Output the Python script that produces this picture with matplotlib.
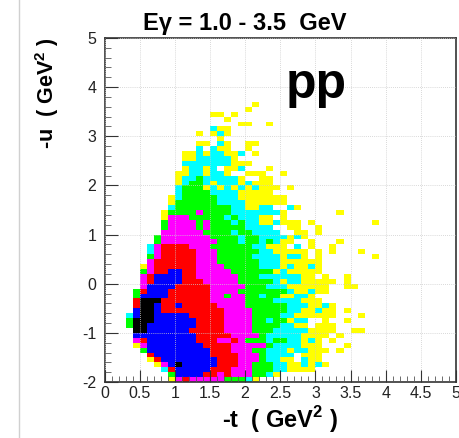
import numpy as np
import matplotlib
matplotlib.use("Agg")
import matplotlib.pyplot as plt
from matplotlib.colors import ListedColormap, BoundaryNorm
from matplotlib.lines import Line2D

plt.rcParams['font.family'] = ['Liberation Sans', 'DejaVu Sans']
plt.rcParams['mathtext.fontset'] = 'custom'
plt.rcParams['mathtext.bf'] = 'Liberation Sans:bold'
plt.rcParams['mathtext.rm'] = 'Liberation Sans'
plt.rcParams['axes.unicode_minus'] = False

# one entry per row of bins from y=-2 upward: (first filled column, levels)
# levels: 0 empty, 1 yellow, 2 cyan, 3 green, 4 magenta, 5 red, 6 blue, 7 black
hist_rows = [
    (9, "1454444433321"),
    (9, "3666655454443321"),
    (8, "2566666555444333221111"),
    (7, "1467666665554433322112121"),
    (6, "15666666665554443221102110"),
    (6, "5666666665555444322220111"),
    (5, "366666666655544433222122111" + "01"),
    (4, "146666666655554444432222111" + "0001"),
    (4, "4566666665554454333233221210" + "1"),
    (4, "66666666655555444432222211110" + "1"),
    (4, "7766666655555444433322222111100" + "11"),
    (3, "37766666665555444433332211011" + "1"),
    (3, "37776666665555444433233122001" + "001"),
    (3, "26776666655555444433332211111" + "10001"),
    (4, "677655555555544443333322112110" + "1"),
    (4, "577655655555444433333322211" + "21"),
    (4, "57775555555444443333222211" + "1"),
    (4, "36666555555443443323" + "311221"),
    (4, "35666555555444433333332112" + "11"),
    (5, "466665555544444333222" + "11111100" + "11"),
    (5, "4566665554444433333212" + "21111101"),
    (5, "456666554444443332222221" + "101001"),
    (5, "34556655444443333331211111"),
    (5, "14555555444433333222121121"),
    (6, "4555555444333333222111111"),
    (6, "3455555444333332222122" + "10100000001"),
    (6, "2455555444333333221111101010001"),
    (6, "2455554443333332211102010" + "01"),
    (7, "344444444333233232110010001"),
    (7, "3444444433332332222121"),
    (8, "4444443333233222200110" + "1"),
    (8, "344443433333222200110" + "01"),
    (8, "34444343332322112111010000000" + "01"),
    (8, "144433333232221101"),
    (8, "133334333322222"+"22100000001"),
    (9, "2333333332211220021"),
    (9, "1333333222211111"+"1"),
    (9, "123333322211111"+"11"),
    (10, "2333322221111"+"1"),
    (10, "233312121212111"+"01"),
    (10, "1233212221211"+"1"),
    (10, "1223222221001"+"1"),
    (10, "11221221001110"+"01"),
    (11, "12212011200"+"01"),
    (11, "2222222111"),
    (11, "11222221"),
    (11, "1121221120" + "1"),
    (13, "2021100"+"1"),
    (13, "11021001"+"1"),
    (16, "1"),
    (13, "10121"),
    (15, "211"),
    (19, "11001"),
    (17, "1"),
    (15, "1101"),
    (20, "1"),
    (21, "1"),
]
level_colors = ["#ffff00", "#00ffff", "#00ff00", "#ff00ff", "#ff0000", "#0000ff", "#000000"]
x_ticks = [0, 0.5, 1, 1.5, 2, 2.5, 3, 3.5, 4, 4.5, 5]
x_tick_labels = ["0", "0.5", "1", "1.5", "2", "2.5", "3", "3.5", "4", "4.5", "5"]
y_ticks = [-2, -1, 0, 1, 2, 3, 4, 5]

# fill the level grid, 0.1 x 0.1 GeV^2 bins
x_edges = np.arange(51) * 0.1
y_edges = np.arange(71) * 0.1 - 2
counts = np.zeros((70, 50))
for i, (start, levels) in enumerate(hist_rows):
    for j, ch in enumerate(levels):
        counts[i, start + j] = int(ch)
counts = np.ma.masked_equal(counts, 0)

fig = plt.figure(figsize=(4.59, 4.38), dpi=100)
ax = fig.add_axes([104.5 / 459, 1 - 382 / 438, 351.5 / 459, 344 / 438])

cmap = ListedColormap(level_colors)
norm = BoundaryNorm(np.arange(0.5, 8.5), cmap.N)
ax.pcolormesh(x_edges, y_edges, counts, cmap=cmap, norm=norm, zorder=1)

ax.set_xlim(0, 5)
ax.set_ylim(-2, 5)
ax.set_xticks(x_ticks)
ax.set_xticklabels(x_tick_labels)
ax.set_yticks(y_ticks)
ax.set_xticks(np.arange(0, 5.01, 0.1), minor=True)
ax.set_yticks(np.arange(-2, 5.01, 0.2), minor=True)
ax.tick_params(which='major', direction='in', length=9, width=0.8, color='#333333',
               labelsize=11.5, labelcolor='#222222', pad=3)
ax.tick_params(which='minor', direction='in', length=4.5, width=0.6, color='#555555')
ax.tick_params(axis='y', which='major', pad=6)
ax.grid(True, which='major', color='#cccccc', lw=0.6, ls=(0, (1, 1.5)), zorder=2)
ax.set_axisbelow(False)
for s in ax.spines.values():
    s.set_linewidth(1.2)
    s.set_color('#333333')

ax.set_title("E\u03b3 = 1.0 - 3.5  GeV", fontsize=17, fontweight='bold', pad=6, x=0.40)
ax.set_xlabel(r"-t  ( GeV$^{\mathbf{2}}$ )", fontsize=17, fontweight='bold', labelpad=2)
ax.set_ylabel(r"-u  ( GeV$^{\mathbf{2}}$ )", fontsize=15.5, fontweight='bold')
ax.yaxis.set_label_coords(-0.125, 0.84)
ax.text(2.58, 3.78, "pp", fontsize=36, fontweight='bold', color='black', zorder=5)

# thin page rule on the left
fig.add_artist(Line2D([18.5 / 459, 18.5 / 459], [0, 1], color='#d0d0d0', lw=1))

fig.savefig("out.png", dpi=100)
